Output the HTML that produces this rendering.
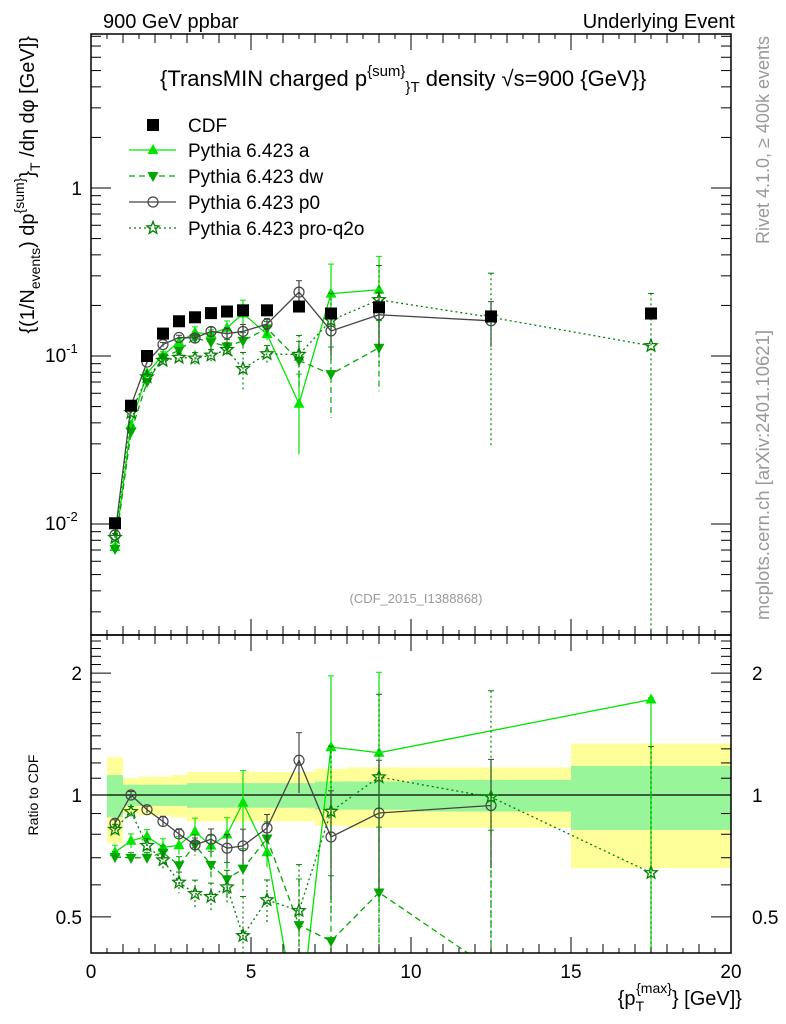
<!DOCTYPE html>
<html><head><meta charset="utf-8"><style>
body{margin:0;background:#fff}
svg{display:block;font-family:"Liberation Sans",sans-serif}
</style></head><body>
<svg id="c" width="786" height="1024" viewBox="0 0 786 1024"></svg>
<script>
const xs=[0.75,1.25,1.75,2.25,2.75,3.25,3.75,4.25,4.75,5.5,6.5,7.5,9,12.5,17.5];
const binLo=[0.5,1,1.5,2,2.5,3,3.5,4,4.5,5,6,7,8,10,15];
const binHi=[1,1.5,2,2.5,3,3.5,4,4.5,5,6,7,8,10,15,20];
const cdf=[0.0101,0.0506,0.100,0.136,0.161,0.170,0.180,0.184,0.187,0.187,0.197,0.179,0.195,0.172,0.179];
const cdfStat=[0.12,0.06,0.06,0.06,0.06,0.07,0.07,0.07,0.07,0.07,0.07,0.08,0.08,0.09,0.18];
const cdfTot=[0.24,0.10,0.11,0.11,0.12,0.14,0.14,0.14,0.14,0.14,0.14,0.16,0.17,0.17,0.34];
const pyA=[0.0073,0.039,0.079,0.101,0.121,0.138,0.135,0.147,0.179,0.135,0.052,0.235,0.248,null,0.308];
const pyAErr=[0.04,0.04,0.04,0.05,0.05,0.08,0.06,0.1,0.2,0.08,0.5,0.5,0.58,0,1.1];
const pyAErrUp=[0.04,0.04,0.04,0.05,0.05,0.08,0.06,0.1,0.2,0.08,0.5,0.5,0.58,0,0.01];
const pyDW=[0.0071,0.0354,0.070,0.098,0.108,0.128,0.121,0.114,0.123,0.146,0.094,0.078,0.112,0.064,null];
const pyDWErr=[0.03,0.03,0.03,0.04,0.05,0.06,0.08,0.1,0.12,0.1,0.3,0.45,0.45,1.2,0];
const pyP0=[0.0086,0.0506,0.092,0.117,0.129,0.128,0.140,0.136,0.140,0.155,0.240,0.141,0.176,0.162,null];
const pyP0Err=[0.02,0.02,0.02,0.03,0.03,0.04,0.06,0.08,0.1,0.08,0.17,0.3,0.35,0.3,0];
const pyQ=[0.0083,0.046,0.075,0.094,0.098,0.097,0.101,0.109,0.084,0.103,0.102,0.163,0.216,0.170,0.115];
const pyQErr=[0.03,0.03,0.04,0.05,0.06,0.08,0.08,0.1,0.25,0.12,0.3,0.45,0.6,0.83,1.05];
const mainTicks=[1,0.1,0.01];
const ratioTicks=[2,1,0.5];
const xTicks=[0,5,10,15,20];

const NS="http://www.w3.org/2000/svg";
const svg=document.getElementById('c');
function el(t,a,p){const e=document.createElementNS(NS,t);for(const k in a)e.setAttribute(k,a[k]);(p||svg).appendChild(e);return e;}
const L=91,R=731,T=34,MB=635,RB=953;
const X=v=>L+(v-0)/20*(R-L);
const Y=v=>188-Math.log10(v)*168;
const YR=v=>795-Math.log10(v)*405;
const clampM=y=>Math.max(T,Math.min(MB,y));
const clampR=y=>Math.max(MB,Math.min(RB,y));

const defs=el('defs',{});
const c1=el('clipPath',{id:'cm'},defs);el('rect',{x:L,y:T,width:R-L,height:MB-T},c1);
const c2=el('clipPath',{id:'cr'},defs);el('rect',{x:L,y:MB,width:R-L,height:RB-MB},c2);

const gR=el('g',{'clip-path':'url(#cr)'});

binLo.forEach((lo,i)=>{
  const r=el('rect',{x:X(lo),width:X(binHi[i])-X(lo),y:YR(1+cdfTot[i]),height:YR(1-cdfTot[i])-YR(1+cdfTot[i]),fill:'#ffff99'},gR);
  
  
});
binLo.forEach((lo,i)=>{
  const r=el('rect',{x:X(lo),width:X(binHi[i])-X(lo),y:YR(1+cdfStat[i]),height:YR(1-cdfStat[i])-YR(1+cdfStat[i]),fill:'#99f599'},gR);
  
  
});
el('line',{x1:L,x2:R,y1:YR(1),y2:YR(1),stroke:'#000','stroke-width':1.3},gR);

function marker(g,type,x,y,col){
  let m;
  if(type==='sq')m=el('rect',{x:x-6,y:y-6,width:12,height:12,fill:'#000'},g);
  else if(type==='up')m=el('polygon',{points:`${x},${y-6} ${x-5.5},${y+4} ${x+5.5},${y+4}`,fill:col},g);
  else if(type==='dn')m=el('polygon',{points:`${x},${y+6} ${x-5.5},${y-4} ${x+5.5},${y-4}`,fill:col},g);
  else if(type==='ci')m=el('circle',{cx:x,cy:y,r:5,fill:'none',stroke:col,'stroke-width':1.2},g);
  else {let p=[];for(let k=0;k<10;k++){const r=k%2?2.8:6.5,a=-Math.PI/2+k*Math.PI/5;p.push((x+r*Math.cos(a)).toFixed(1)+','+(y+r*Math.sin(a)).toFixed(1));}
    m=el('polygon',{points:p.join(' '),fill:'none',stroke:col,'stroke-width':1.3},g);}
  
  
}
const series=[
 {name:'pythia-a',v:pyA,e:pyAErr,eu:pyAErrUp,col:'#00e600',dash:'',m:'up',mainMax:12},
 {name:'pythia-dw',v:pyDW,e:pyDWErr,col:'#00a800',dash:'6,4',m:'dn',mainMax:12},
 {name:'pythia-p0',v:pyP0,e:pyP0Err,col:'#444',dash:'',m:'ci',mainMax:14},
 {name:'pythia-pro-q2o',v:pyQ,e:pyQErr,col:'#008000',dash:'2,3',m:'st',mainMax:14}
];
function drawSeries(s,ratio){
  const g=el('g',{'clip-path':ratio?'url(#cr)':'url(#cm)'});
  
  
  const Yf=ratio?YR:Y, cl=ratio?clampR:clampM;
  let pts=[];
  s.v.forEach((v,i)=>{if(v==null)return;if(!ratio&&i>s.mainMax)return;
    const val=ratio?v/cdf[i]:v;pts.push([X(xs[i]),Yf(val)]);
    const err=val*s.e[i], errU=val*(s.eu?s.eu[i]:s.e[i]);
    if(err>0){const lo=val-err;const y1=cl(Yf(val+errU)),y2=lo>0?cl(Yf(lo)):(ratio?RB:MB);
      el('line',{x1:X(xs[i]),x2:X(xs[i]),y1:y1,y2:y2,stroke:s.col,'stroke-width':1.2,'stroke-dasharray':s.dash},g);
      el('line',{x1:X(xs[i])-3,x2:X(xs[i])+3,y1:y1,y2:y1,stroke:s.col,'stroke-width':1},g);}
  });
  el('polyline',{points:pts.map(p=>p.join(',')).join(' '),fill:'none',stroke:s.col,'stroke-width':1.3,'stroke-dasharray':s.dash},g);
  pts.forEach(p=>marker(g,s.m,p[0],p[1],s.col));
}
series.forEach(s=>drawSeries(s,false));
const gc=el('g',{'clip-path':'url(#cm)'});

cdf.forEach((v,i)=>{marker(gc,'sq',X(xs[i]),Y(v),'#000');});
series.forEach(s=>drawSeries(s,true));

el('rect',{x:L,y:T,width:R-L,height:MB-T,fill:'none',stroke:'#000','stroke-width':1.5});
el('rect',{x:L,y:MB,width:R-L,height:RB-MB,fill:'none',stroke:'#000','stroke-width':1.5});
for(let v=0;v<=20.001;v+=0.5){const big=Math.abs(v%5)<1e-6,med=Math.abs(v%1)<1e-6;const h=big?16:(med?9:5);
  [[MB,-1],[RB,-1],[T,1],[MB,1]].forEach(([y0,d])=>el('line',{x1:X(v),x2:X(v),y1:y0,y2:y0+d*h,stroke:'#000'}));}
xTicks.forEach(v=>{const t=el('text',{x:X(v),y:978,'font-size':19,'text-anchor':'middle'});t.textContent=v;
  });
for(let d=-3;d<=0;d++)for(let k=1;k<=9;k++){const v=k*Math.pow(10,d);if(Y(v)<T||Y(v)>MB)continue;const h=k===1?20:10;
  el('line',{x1:L,x2:L+h,y1:Y(v),y2:Y(v),stroke:'#000'});el('line',{x1:R,x2:R-h,y1:Y(v),y2:Y(v),stroke:'#000'});}
[['1',188],['10','355','-1'],['10','523','-2']].forEach(a=>{const t=el('text',{x:82,y:+a[1]+7,'font-size':19,'text-anchor':'end'});t.textContent=a[0];
  if(a[2]){const s=el('tspan',{dy:-9,'font-size':13},t);s.textContent=a[2];t.removeAttribute('text-anchor');t.setAttribute('x',45);}
  });
for(let v=0.4;v<=2.5;v=Math.round((v+0.1)*10)/10){if(YR(v)<MB||YR(v)>RB)continue;const h=(v===0.5||v===1||v===2)?20:10;
  el('line',{x1:L,x2:L+h,y1:YR(v),y2:YR(v),stroke:'#000'});el('line',{x1:R,x2:R-h,y1:YR(v),y2:YR(v),stroke:'#000'});}
ratioTicks.forEach(v=>{[[82,'end'],[752,'start']].forEach(([x,an])=>{const t=el('text',{x:x,y:YR(v)+7,'font-size':19,'text-anchor':an});t.textContent=v;
  });});

function txt(s,a,name){const t=el('text',a);t.innerHTML=s;return t;}
txt('900 GeV ppbar',{x:103,y:28,'font-size':20},'header-left');
txt('Underlying Event',{x:735,y:28,'font-size':20,'text-anchor':'end'},'header-right');
txt('{TransMIN charged p<tspan dy="-10" font-size="15">{sum}</tspan><tspan dy="16" font-size="15">}</tspan><tspan font-size="15">T</tspan><tspan dy="-6"> density √s=900 {GeV}}</tspan>',{x:160,y:86,'font-size':22},'plot-title');
txt('(CDF_2015_I1388868)',{x:416,y:603,'font-size':13,fill:'#999','text-anchor':'middle'},'analysis-id');
txt('Rivet 4.1.0, ≥ 400k events',{x:0,y:0,'font-size':18,fill:'#999','text-anchor':'end',transform:'translate(769,36) rotate(-90)'},'rivet-label');
txt('mcplots.cern.ch [arXiv:2401.10621]',{x:0,y:0,'font-size':18.5,fill:'#999','text-anchor':'end',transform:'translate(769,330) rotate(-90)'},'mcplots-label');
txt('Ratio to CDF',{x:0,y:0,'font-size':14,'text-anchor':'middle',transform:'translate(38,795) rotate(-90)'},'ratio-axis-title');
txt('{p<tspan dy="6" font-size="14">T</tspan><tspan dy="-18" font-size="14" dx="-8">{max}</tspan><tspan dy="12">} [GeV]}</tspan>',{x:742,y:1005,'font-size':20,'text-anchor':'end'},'x-axis-title');
txt('{(1/N<tspan dy="6" font-size="14">events</tspan><tspan dy="-6">) dp</tspan><tspan dy="-10" font-size="14">{sum}</tspan><tspan dy="10">}</tspan><tspan dy="6" font-size="14">T</tspan><tspan dy="-6"> /dη  dφ [GeV]}</tspan>',{x:0,y:0,'font-size':20,'text-anchor':'end',transform:'translate(34,36) rotate(-90)'},'y-axis-title');

const lg=el('g',{});
const ly=[125,150,176,202,228];
const e0=el('g',{},lg);
marker(e0,'sq',153,ly[0],'#000');
const lt=el('text',{x:188,y:ly[0]+7,'font-size':19},e0);lt.textContent='CDF';
const labels=['Pythia 6.423 a','Pythia 6.423 dw','Pythia 6.423 p0','Pythia 6.423 pro-q2o'];
series.forEach((s,i)=>{const g=el('g',{},lg);
  el('line',{x1:129,x2:176,y1:ly[i+1],y2:ly[i+1],stroke:s.col,'stroke-width':1.3,'stroke-dasharray':s.dash},g);
  marker(g,s.m,153,ly[i+1],s.col);
  const t=el('text',{x:188,y:ly[i+1]+7,'font-size':19},g);t.textContent=labels[i];});
</script>
</body></html>
